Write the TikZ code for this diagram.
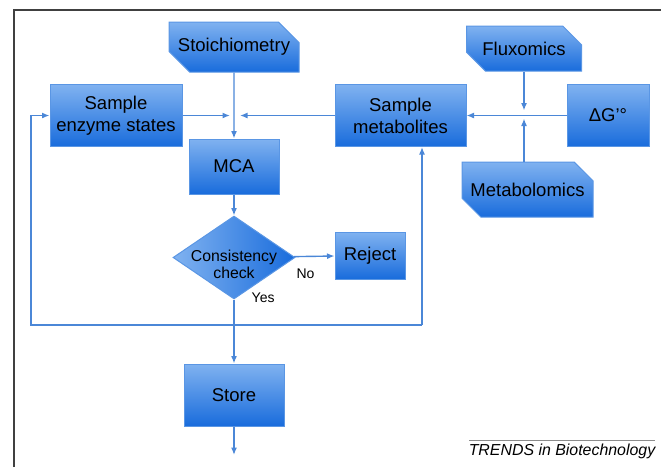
\documentclass[tikz,border=0pt]{standalone}
\usepackage{fontspec}
\setmainfont{Liberation Sans}
\usetikzlibrary{arrows.meta,shapes.geometric,shapes.misc}
\definecolor{boxtop}{RGB}{128,178,240}
\definecolor{boxbot}{RGB}{25,108,220}
\definecolor{boxline}{RGB}{90,150,228}
\definecolor{flowline}{RGB}{75,135,215}

\begin{document}
\begin{tikzpicture}[x=1pt,y=-1pt,
  box/.style={draw=boxline, line width=1pt, top color=boxtop, bottom color=boxbot,
    align=center, inner sep=0pt, font=\fontsize{18.5}{22}\selectfont},
  datain/.style={box, chamfered rectangle, chamfered rectangle corners={north east,south west},
    chamfered rectangle xsep=12pt, chamfered rectangle ysep=12pt},
  check/.style={diamond, draw=boxline, line width=1pt, left color=boxtop, right color=boxbot,
    aspect=1.47, inner sep=0pt, minimum width=122pt, minimum height=83pt,
    font=\fontsize{15.8}{18}\selectfont},
  flow/.style={draw=flowline, line width=1.4pt, -{Latex[length=7.5pt,width=6pt]}},
  lbl/.style={inner sep=0pt, font=\fontsize{14}{16}\selectfont}]
  \useasboundingbox (0,0) rectangle (661,467);
  % Frame
  \draw[black!75, line width=1.5pt] (14,467) -- (14,10) -- (661,10);
  % Data sources
  \node[datain, minimum width=130pt, minimum height=50pt] (stoich) at (234,47) {Stoichiometry};
  \node[datain, minimum width=115pt, minimum height=45pt] (flux) at (524,48.5) {Fluxomics};
  \node[datain, minimum width=131pt, minimum height=55pt] (metabol) at (527.5,189.5) {Metabolomics};
  \node[box, minimum width=82pt, minimum height=62pt] (dg) at (608,115.5) {ΔG’°};
  % Sampling steps
  \node[box, minimum width=132pt, minimum height=62pt] (enzyme) at (116,115.5) {Sample\\enzyme states};
  \node[box, minimum width=131pt, minimum height=62pt] (metab) at (400.5,115.5) {Sample\\metabolites};
  % Analysis and decision
  \node[box, minimum width=90pt, minimum height=55pt] (mca) at (234,166.5) {MCA};
  \node[check] (check) at (234,257.5)
    {\raisebox{-12pt}[0pt][0pt]{\begin{tabular}{@{}c@{}}Consistency\\[-1pt]check\end{tabular}}};
  \node[box, minimum width=70pt, minimum height=47pt] (reject) at (370,255.5) {Reject};
  \node[box, minimum width=100pt, minimum height=62pt] (store) at (234,395) {Store};
  % Junctions and loop corners
  \coordinate (jmca) at (234,115.5);
  \coordinate (jmet) at (524,115.5);
  \coordinate (loopL) at (31,325);
  \coordinate (loopR) at (422,325);
  \coordinate (out) at (234,455);
  % Inputs to MCA
  \draw[flow] (stoich) -- (mca);
  \draw[flow, shorten >=4pt] (enzyme) -- (jmca);
  \draw[flow, shorten >=6pt] (metab) -- (jmca);
  % Inputs to metabolite sampling
  \draw[flow] (dg) -- (metab);
  \draw[flow, shorten >=5pt] (flux) -- (jmet);
  \draw[flow, shorten >=3pt] (jmet |- metabol.north) -- (jmet);
  % Decision
  \draw[flow] (mca) -- (check);
  \draw[flow] (check) -- (reject) node[lbl, pos=0.28, below=12pt] (no) {No};
  \draw[flow] (check) -- (store) node[lbl, pos=0, anchor=west, xshift=17pt, yshift=2pt] (yes) {Yes};
  \draw[flow] (store) -- (out);
  % Feedback loop
  \draw[flow] (loopR) -- (loopL) -- (loopL |- enzyme) -- (enzyme);
  \draw[flow] (loopR) -- (loopR |- metab.south);
  % Journal tag
  \draw[black!45, line width=0.8pt] (469,440) -- (655,440);
  \node[inner sep=0pt, font=\fontsize{15.9}{18}\selectfont\itshape] (trends) at (562,451) {TRENDS in Biotechnology};
\end{tikzpicture}
\end{document}
